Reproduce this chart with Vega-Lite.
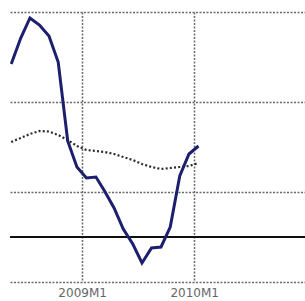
{
  "$schema": "https://vega.github.io/schema/vega-lite/v6.json",
  "autosize": "none",
  "padding": {"left": 10, "top": 12, "right": 0, "bottom": 19},
  "width": 295,
  "height": 270,
  "background": "white",
  "config": {"view": {"stroke": null}},
  "data": {
    "values": [
      {"date": "2008-05-15", "a": 3.844, "b": 2.111},
      {"date": "2008-06-15", "a": 4.422, "b": 2.2},
      {"date": "2008-07-15", "a": 4.867, "b": 2.289},
      {"date": "2008-08-15", "a": 4.711, "b": 2.356},
      {"date": "2008-09-15", "a": 4.467, "b": 2.344},
      {"date": "2008-10-15", "a": 3.889, "b": 2.267},
      {"date": "2008-11-15", "a": 2.133, "b": 2.156},
      {"date": "2008-12-15", "a": 1.556, "b": 2.022},
      {"date": "2009-01-15", "a": 1.311, "b": 1.933},
      {"date": "2009-02-15", "a": 1.333, "b": 1.911},
      {"date": "2009-03-15", "a": 1.022, "b": 1.889},
      {"date": "2009-04-15", "a": 0.644, "b": 1.844},
      {"date": "2009-05-15", "a": 0.178, "b": 1.778},
      {"date": "2009-06-15", "a": -0.156, "b": 1.711},
      {"date": "2009-07-15", "a": -0.578, "b": 1.622},
      {"date": "2009-08-15", "a": -0.244, "b": 1.556},
      {"date": "2009-09-15", "a": -0.222, "b": 1.511},
      {"date": "2009-10-15", "a": 0.222, "b": 1.533},
      {"date": "2009-11-15", "a": 1.356, "b": 1.556},
      {"date": "2009-12-15", "a": 1.844, "b": 1.578},
      {"date": "2010-01-15", "a": 2.022, "b": 1.644}
    ]
  },
  "encoding": {
    "x": {
      "field": "date",
      "type": "temporal",
      "scale": {
        "type": "utc",
        "domain": [
          {"year": 2008, "month": 5, "date": 11, "utc": true},
          {"year": 2010, "month": 12, "date": 28, "utc": true}
        ]
      },
      "axis": {
        "title": null,
        "values": [
          {"year": 2009, "month": 1, "date": 1, "utc": true},
          {"year": 2010, "month": 1, "date": 1, "utc": true}
        ],
        "labelExpr": "utcFormat(datum.value, '%Y') + 'M1'",
        "grid": true,
        "gridColor": "#6a6a6a",
        "gridDash": [2, 1.5],
        "gridWidth": 1.5,
        "domain": false,
        "ticks": false,
        "labelFont": "DejaVu Sans",
        "labelFontSize": 12,
        "labelColor": "#666666",
        "labelPadding": 5,
        "labelDx": 3,
        "labelBound": false,
        "labelFlush": false,
        "labelOverlap": false
      }
    }
  },
  "layer": [
    {
      "mark": {"type": "rule", "color": "#111111", "strokeWidth": 1.6},
      "encoding": {"x": null, "y": {"datum": 0, "type": "quantitative"}}
    },
    {
      "mark": {"type": "line", "color": "#2a2a2a", "strokeWidth": 2.2, "strokeDash": [2, 2.2], "clip": true},
      "encoding": {
        "y": {"field": "b", "type": "quantitative"}
      }
    },
    {
      "mark": {"type": "line", "color": "#1c1f6e", "strokeWidth": 3, "clip": true},
      "encoding": {
        "y": {
          "field": "a",
          "type": "quantitative",
          "scale": {"domain": [-1, 5], "nice": false, "zero": false},
          "axis": {
            "title": null,
            "values": [-1, 1, 3, 5],
            "labels": false,
            "ticks": false,
            "domain": false,
            "grid": true,
            "gridColor": "#6a6a6a",
            "gridDash": [2, 1.5],
            "gridWidth": 1.5
          }
        }
      }
    }
  ]
}
